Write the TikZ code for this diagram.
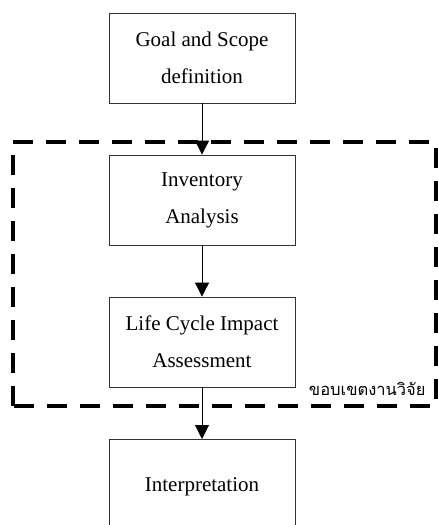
\documentclass[tikz,border=0pt]{standalone}
\usepackage{fontspec}
\setmainfont{Liberation Serif}
\newfontfamily\thaifont[Script=Thai]{Loma}
\usetikzlibrary{arrows.meta}
\begin{document}
\begin{tikzpicture}[x=1pt,y=-1pt,
  stagebox/.style={draw=black!80,line width=0.8pt,minimum width=186pt,minimum height=90pt,align=center,font=\fontsize{21}{37}\selectfont,inner sep=0pt},
  flow/.style={line width=0.9pt,-{Triangle[width=14pt,length=14pt]}}]
\useasboundingbox (0,0) rectangle (437,525);
\node[stagebox] (goal) at (202,58) {Goal and Scope\\definition};
\node[stagebox] (inv) at (202,200) {Inventory\\Analysis};
\node[stagebox] (lcia) at (202,342) {Life Cycle Impact\\Assessment};
\draw[draw=black!80,line width=0.8pt] (109,535) -- (109,439) -- (295,439) -- (295,535);
\coordinate (interp) at (202,439);
\node[font=\fontsize{21}{24}\selectfont] (interpt) at (202,487) {Interpretation};
\draw[line width=3.5pt,dash pattern=on 20pt off 13pt] (13,406) -- (13,142) -- (436,142) -- (436,406) -- cycle;
\node[font=\thaifont\fontsize{16.5}{18}\selectfont,anchor=east] (scope) at (429,389) {ขอบเขตงานวิจัย};
\draw[flow] (goal) -- (inv);
\draw[flow] (inv) -- (lcia);
\draw[flow] (lcia) -- (interp);
\end{tikzpicture}
\end{document}
